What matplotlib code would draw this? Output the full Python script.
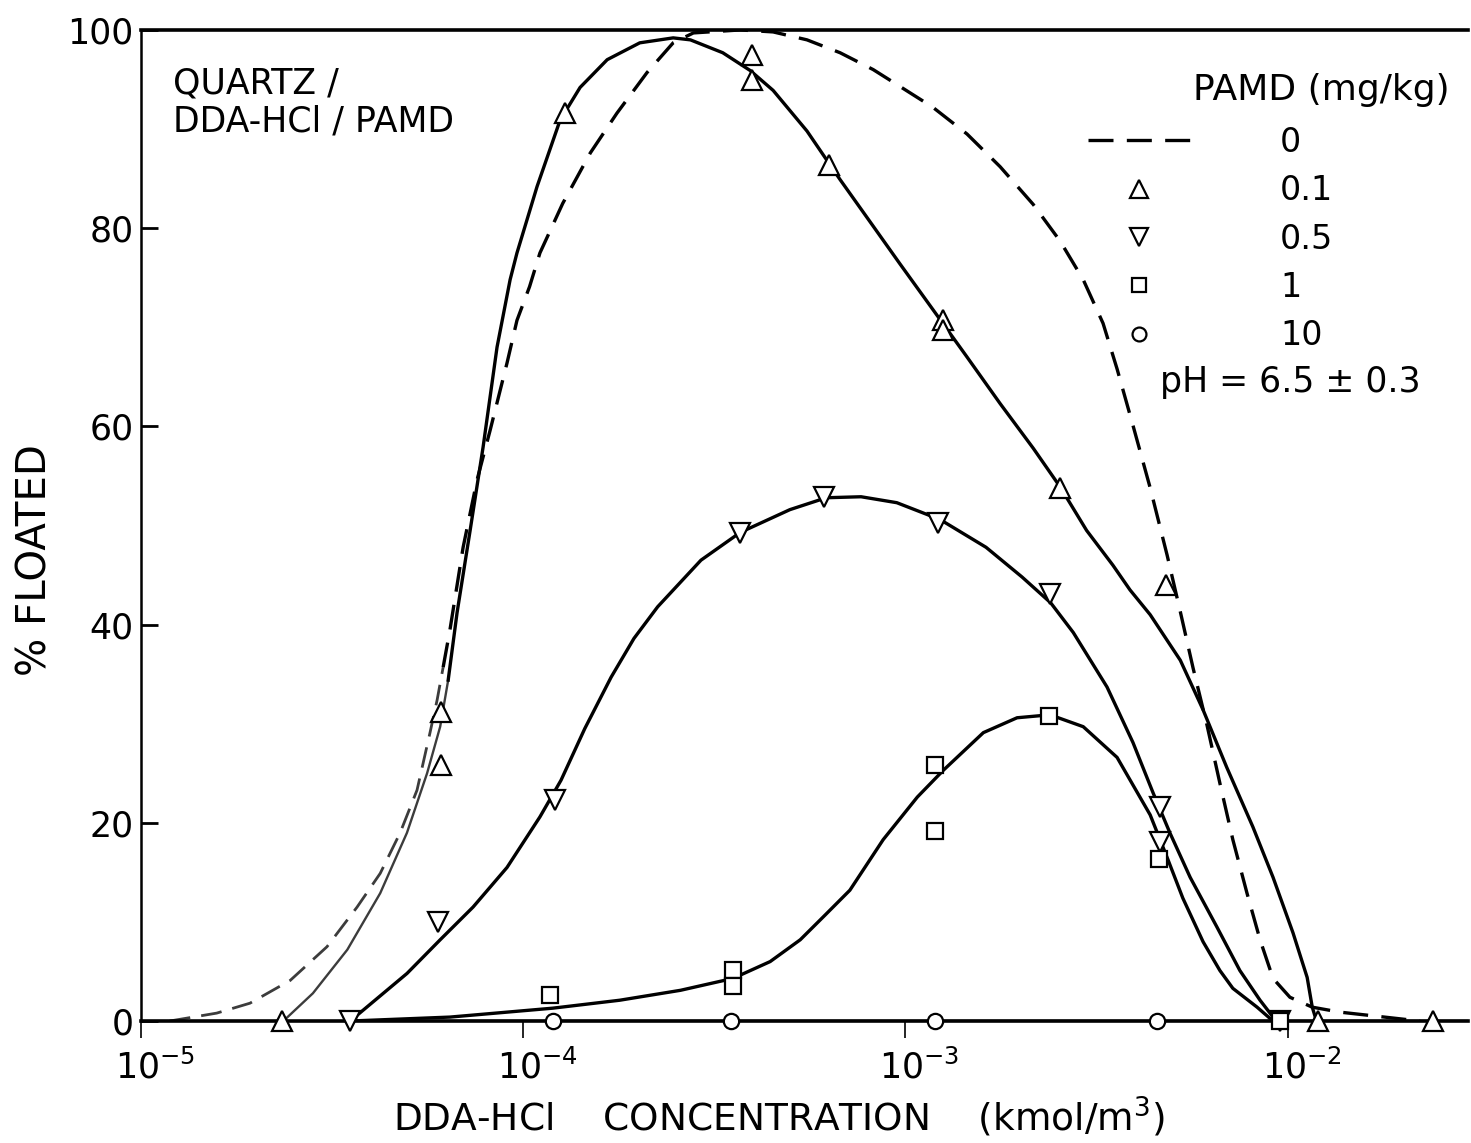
import matplotlib.pyplot as plt
from matplotlib.transforms import ScaledTranslation

# Quartz flotation with DDA-HCl and PAMD, pH = 6.5 +/- 0.3
# curve points are read off the hand drawn fits, markers are the measured points

# PAMD = 0 (dashed curve only)
curve0_x = [1.19e-5, 1.58e-5, 1.93e-5, 2.46e-5, 3.07e-5, 3.68e-5, 4.23e-5, 4.77e-5,
            5.28e-5, 5.71e-5, 5.96e-5, 6.18e-5, 6.44e-5, 6.97e-5, 7.58e-5, 8.20e-5,
            9.08e-5, 9.64e-5, 1.04e-4, 1.107e-4, 1.27e-4, 1.50e-4, 1.76e-4, 2.11e-4,
            2.47e-4, 2.79e-4, 3.70e-4, 4.51e-4, 5.53e-4, 6.75e-4, 8.24e-4, 9.68e-4,
            1.18e-3, 1.45e-3, 1.77e-3, 2.16e-3, 2.54e-3, 2.92e-3, 3.29e-3, 3.58e-3,
            3.94e-3, 4.37e-3, 4.84e-3, 5.24e-3, 5.66e-3, 6.15e-3, 6.65e-3, 7.19e-3,
            7.83e-3, 8.47e-3, 9.16e-3, 1.014e-2, 1.16e-2, 1.37e-2, 2.22e-2]
curve0_y = [0, 0.8, 1.8, 4.1, 7.5, 11.5, 14.9, 19.0,
            23.3, 29.1, 32.4, 35.7, 39.5, 47.8, 54.6, 59.6,
            66.4, 70.7, 74.1, 77.5, 82.5, 87.6, 91.6, 95.7,
            98.7, 99.7, 100.0, 99.8, 99.0, 97.7, 96.0, 94.3,
            92.2, 89.5, 86.2, 82.4, 78.7, 74.8, 70.4, 65.8,
            60.1, 53.8, 47.0, 41.3, 35.6, 29.9, 24.0, 18.3,
            12.9, 8.2, 4.3, 2.4, 1.4, 0.9, 0]

# PAMD = 0.1
pts01_x = [2.34e-5, 6.10e-5, 6.10e-5, 1.29e-4, 3.97e-4, 3.97e-4, 6.31e-4, 1.257e-3,
           1.257e-3, 2.54e-3, 4.81e-3, 1.20e-2, 2.40e-2]
pts01_y = [0, 31.2, 25.8, 91.6, 97.5, 95.0, 86.4, 70.7, 69.7, 53.8, 44.0, 0, 0]
curve01_x = [2.36e-5, 2.82e-5, 3.47e-5, 4.23e-5, 4.97e-5, 5.61e-5, 6.07e-5, 6.37e-5,
             6.72e-5, 7.27e-5, 7.86e-5, 8.55e-5, 9.25e-5, 9.64e-5, 1.088e-4, 1.25e-4,
             1.41e-4, 1.66e-4, 2.02e-4, 2.47e-4, 2.74e-4, 3.33e-4, 3.93e-4, 4.51e-4,
             5.53e-4, 6.75e-4, 8.24e-4, 9.68e-4, 1.18e-3, 1.45e-3, 1.77e-3, 2.16e-3,
             2.54e-3, 2.98e-3, 3.49e-3, 3.87e-3, 4.37e-3, 5.24e-3, 6.01e-3, 6.93e-3,
             8.11e-3, 9.16e-3, 1.033e-2, 1.125e-2, 1.16e-2, 1.19e-2]
curve01_y = [0, 2.8, 7.2, 12.9, 19.0, 25.0, 29.7, 34.4,
             41.2, 49.5, 57.9, 68.0, 74.8, 77.5, 84.2, 90.9,
             94.2, 97.0, 98.7, 99.2, 99.0, 97.7, 95.9, 93.9,
             89.8, 84.9, 80.2, 76.4, 71.8, 67.0, 62.3, 57.8,
             53.9, 49.5, 46.0, 43.5, 41.0, 36.4, 31.4, 25.6,
             19.6, 14.5, 8.9, 4.4, 1.4, 0]

# PAMD = 0.5
pts05_x = [3.53e-5, 6.00e-5, 1.21e-4, 3.70e-4, 6.12e-4, 1.217e-3, 2.39e-3, 4.63e-3,
           4.63e-3, 9.55e-3]
pts05_y = [0, 10.0, 22.3, 49.2, 52.9, 50.3, 43.1, 21.6, 18.1, 0]
curve05_x = [3.53e-5, 4.97e-5, 6.07e-5, 7.40e-5, 9.08e-5, 1.107e-4, 1.257e-4, 1.45e-4,
             1.70e-4, 1.95e-4, 2.25e-4, 2.92e-4, 3.70e-4, 4.99e-4, 6.21e-4, 7.66e-4,
             9.50e-4, 1.233e-3, 1.626e-3, 2.02e-3, 2.40e-3, 2.75e-3, 3.37e-3, 3.94e-3,
             4.45e-3, 4.92e-3, 5.56e-3, 6.53e-3, 7.50e-3, 8.47e-3, 9.16e-3, 9.44e-3]
curve05_y = [0, 4.8, 8.2, 11.5, 15.5, 20.6, 24.3, 29.5,
             34.7, 38.6, 41.8, 46.5, 49.3, 51.6, 52.8, 52.9,
             52.3, 50.6, 47.8, 44.8, 42.2, 39.2, 33.7, 28.1,
             23.0, 19.0, 14.5, 9.5, 5.1, 2.1, 0.4, 0]

# PAMD = 1
pts1_x = [1.177e-4, 3.54e-4, 3.54e-4, 1.197e-3, 1.197e-3, 2.38e-3, 4.62e-3, 9.55e-3]
pts1_y = [2.6, 5.1, 3.5, 25.8, 19.2, 30.8, 16.3, 0]
curve1_x = [3.53e-5, 6.44e-5, 1.197e-4, 1.79e-4, 2.58e-4, 3.54e-4, 4.43e-4, 5.31e-4,
            6.17e-4, 7.16e-4, 8.75e-4, 1.075e-3, 1.257e-3, 1.60e-3, 1.96e-3, 2.39e-3,
            2.92e-3, 3.58e-3, 4.37e-3, 4.84e-3, 5.32e-3, 6.01e-3, 6.65e-3, 7.19e-3,
            8.32e-3, 9.16e-3]
curve1_y = [0, 0.4, 1.3, 2.1, 3.1, 4.3, 6.0, 8.2,
            10.7, 13.2, 18.3, 22.6, 25.3, 29.1, 30.6, 30.9,
            29.7, 26.6, 20.8, 16.5, 12.4, 8.0, 5.1, 3.3,
            1.4, 0]

# PAMD = 10
pts10_x = [1.197e-4, 3.50e-4, 1.197e-3, 4.55e-3]
pts10_y = [0, 0, 0, 0]
curve10_x = [3.53e-5, 3.0e-2]
curve10_y = [0, 0]

legend_labels = ['0', '0.1', '0.5', '1', '10']

plt.rcParams['font.family'] = ['DejaVu Sans']

fig = plt.figure(figsize=(14.71, 11.43), dpi=100)
ax = fig.add_axes([0.0957, 0.1067, 0.9023, 0.8671])

lw = 2.4
dash = (0, (7.5, 4))
faint = '#3c3c3c'
# the low left ends of the 0 and 0.1 curves are fainter/thinner in the original
ax.plot(curve0_x[:12], curve0_y[:12], color=faint, lw=2.0, linestyle=dash)
ax.plot(curve0_x[11:], curve0_y[11:], color='black', lw=lw, linestyle=dash)
ax.plot(curve01_x[:8], curve01_y[:8], color=faint, lw=1.7)
ax.plot(curve01_x[7:], curve01_y[7:], color='black', lw=lw)
ax.plot(curve05_x, curve05_y, color='black', lw=lw)
ax.plot(curve1_x, curve1_y, color='black', lw=lw)
ax.plot(curve10_x, curve10_y, color='black', lw=lw)

mk = dict(linestyle='none', markerfacecolor='white', markeredgecolor='black',
          markeredgewidth=1.6, clip_on=False, zorder=5)
ax.plot(pts01_x, pts01_y, marker='^', markersize=15, **mk)
ax.plot(pts05_x, pts05_y, marker='v', markersize=15, **mk)
ax.plot(pts1_x, pts1_y, marker='s', markersize=12, **mk)
ax.plot(pts10_x, pts10_y, marker='o', markersize=11, **mk)

ax.set_xscale('log')
ax.set_xlim(1e-5, 2.965e-2)
ax.set_ylim(0, 100)
ax.set_yticks([0, 20, 40, 60, 80, 100])
ax.set_xticks([1e-5, 1e-4, 1e-3, 1e-2])
ax.minorticks_off()
ax.tick_params(axis='y', direction='in', length=12, width=2, labelsize=25, pad=5)
ax.tick_params(axis='x', direction='out', length=12, width=1.2, labelsize=25, pad=8)
shift = ScaledTranslation(0.14, 0, fig.dpi_scale_trans)
for lab in ax.get_xticklabels():
    lab.set_transform(lab.get_transform() + shift)

ax.spines['right'].set_visible(False)
ax.spines['left'].set_linewidth(1.8)
ax.spines['top'].set_linewidth(2.6)
ax.spines['bottom'].set_linewidth(2.6)

ax.set_xlabel('DDA-HCl    CONCENTRATION    (kmol/m$^3$)', fontsize=27)
ax.xaxis.set_label_coords(0.481, -0.075)
ax.set_ylabel('% FLOATED', fontsize=29)
ax.yaxis.set_label_coords(-0.064, 0.465)

ax.text(0.0243, 0.927, 'QUARTZ /\nDDA-HCl / PAMD', transform=ax.transAxes,
        fontsize=25, va='center', ha='left', linespacing=1.15)

# legend
h0, = ax.plot([], [], color='black', lw=lw, linestyle=dash)
h1, = ax.plot([], [], marker='^', markersize=13, **mk)
h2, = ax.plot([], [], marker='v', markersize=13, **mk)
h3, = ax.plot([], [], marker='s', markersize=10, **mk)
h4, = ax.plot([], [], marker='o', markersize=10, **mk)
ax.legend([h0, h1, h2, h3, h4], legend_labels,
          loc='upper left', bbox_to_anchor=(0.7137, 0.903), frameon=False,
          fontsize=24, handlelength=3.06, handletextpad=2.7, labelspacing=0.46,
          borderpad=0, borderaxespad=0)
ax.text(0.9864, 0.9395, 'PAMD (mg/kg)', transform=ax.transAxes, fontsize=26,
        ha='right', va='center')
ax.text(0.768, 0.645, 'pH = 6.5 ± 0.3', transform=ax.transAxes, fontsize=25,
        ha='left', va='center')

plt.savefig('out.png')
